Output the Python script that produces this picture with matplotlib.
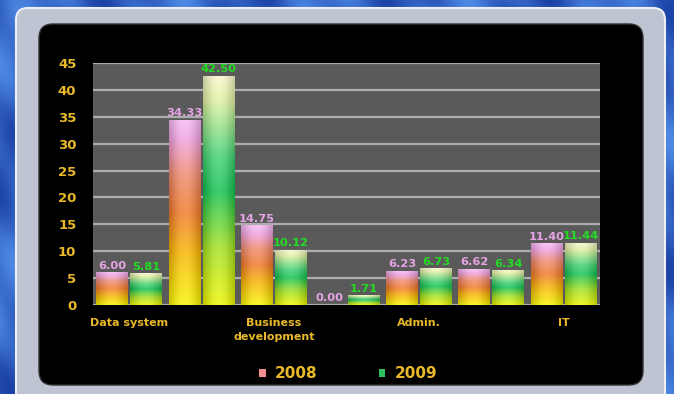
import numpy as np
import matplotlib.pyplot as plt
from matplotlib.patches import FancyBboxPatch, Patch
from matplotlib.colors import LinearSegmentedColormap

# data
categories = ['Data system', '', 'Business\ndevelopment', '', 'Admin.', '', 'IT']
vals_2008 = [6.00, 34.33, 14.75, 0.00, 6.23, 6.62, 11.40]
vals_2009 = [5.81, 42.50, 10.12, 1.71, 6.73, 6.34, 11.44]
series_names = ['2008', '2009']
yticks = list(range(0, 50, 5))

gold = '#e8b828'
pink_txt = '#e6a4e4'
green_txt = '#22dd22'

W, H = 674, 394
fig = plt.figure(figsize=(W / 100, H / 100), dpi=100)

# blue textured background + frame
bg = fig.add_axes([0, 0, 1, 1])
bg.set_xlim(0, W)
bg.set_ylim(H, 0)
bg.axis('off')
yy, xx = np.mgrid[0:H, 0:W]
tex = 0.5 + 0.25 * np.sin(xx / 23.0 + yy / 37.0) + 0.15 * np.sin(xx / 9.0 - yy / 14.0)
blue = np.dstack([0.08 + 0.25 * tex, 0.22 + 0.35 * tex, 0.62 + 0.3 * tex]).clip(0, 1)
bg.imshow(blue, extent=(0, W, H, 0), aspect='auto')
bg.add_patch(FancyBboxPatch((16, 8), 649, 400, boxstyle='round,pad=0,rounding_size=12',
                            fc='#bfc4d2', ec='#eef0f6', lw=1.5))
bg.add_patch(FancyBboxPatch((39, 24), 604, 361, boxstyle='round,pad=0,rounding_size=14',
                            fc='black', ec='#303030', lw=1))

# plot area
ax = fig.add_axes([93 / W, 1 - 305 / H, 507 / W, 242 / H])
ax.set_facecolor('#5a5a5a')
ax.yaxis.grid(True, color='#acacac', lw=1.6)
ax.set_axisbelow(True)
for s in ax.spines.values():
    s.set_visible(False)

cmap08 = LinearSegmentedColormap.from_list('c08', [
    (0.0, '#f8f400'), (0.28, '#f8b400'), (0.5, '#f07828'),
    (0.7, '#f08868'), (0.9, '#f0a0e0'), (1.0, '#f6b8f2')])
cmap09 = LinearSegmentedColormap.from_list('c09', [
    (0.0, '#ecf400'), (0.25, '#a0e020'), (0.5, '#10c050'),
    (0.65, '#40d070'), (0.9, '#e0f0a0'), (1.0, '#f6f6c8')])


def grad_img(cmap, n=80, m=24):
    t = np.linspace(0, 1, n)
    col = cmap(t)[:, None, :3]
    s = np.linspace(-1, 1, m)
    c = np.cos(s * np.pi / 2)[None, :, None]
    img = col * (0.82 + 0.18 * c) + (1 - col) * 0.18 * c
    return img.clip(0, 1)


x = np.arange(len(categories))
width = 0.44
off = 0.235
for vals, dx, cmap, tcol in [(vals_2008, -off, cmap08, pink_txt),
                             (vals_2009, off, cmap09, green_txt)]:
    bars = ax.bar(x + dx, vals, width, color='none', zorder=2)
    img = grad_img(cmap)
    for b, v in zip(bars, vals):
        if v > 0:
            x0 = b.get_x()
            ax.imshow(img, extent=(x0, x0 + b.get_width(), 0, v), origin='lower',
                      aspect='auto', zorder=2)
        ax.text(b.get_x() + b.get_width() / 2, v + 0.4, f'{v:.2f}', ha='center', va='bottom',
                color=tcol, fontsize=8.2, fontweight='bold', zorder=3)

ax.set_xlim(-0.5, len(categories) - 0.5)
ax.set_ylim(0, 45)
ax.set_yticks(yticks)
ax.set_xticks(x)
ax.set_xticklabels(categories, color=gold, fontsize=8, fontweight='bold', linespacing=1.6)
ax.tick_params(axis='y', length=0, pad=12, labelcolor=gold, labelsize=9.5)
ax.tick_params(axis='x', length=0, pad=9)
for lab in ax.get_yticklabels():
    lab.set_fontweight('bold')

handles = [Patch(fc='#f09090', ec='none'), Patch(fc='#30c060', ec='none')]
leg = fig.legend(handles, series_names, loc='center', bbox_to_anchor=(348 / W, 1 - 374 / H),
                 ncol=2, frameon=False, handlelength=0.45, handleheight=0.45,
                 columnspacing=4, handletextpad=0.6, prop={'size': 11, 'weight': 'bold'})
for t in leg.get_texts():
    t.set_color(gold)

fig.savefig('out.png', dpi=100)
